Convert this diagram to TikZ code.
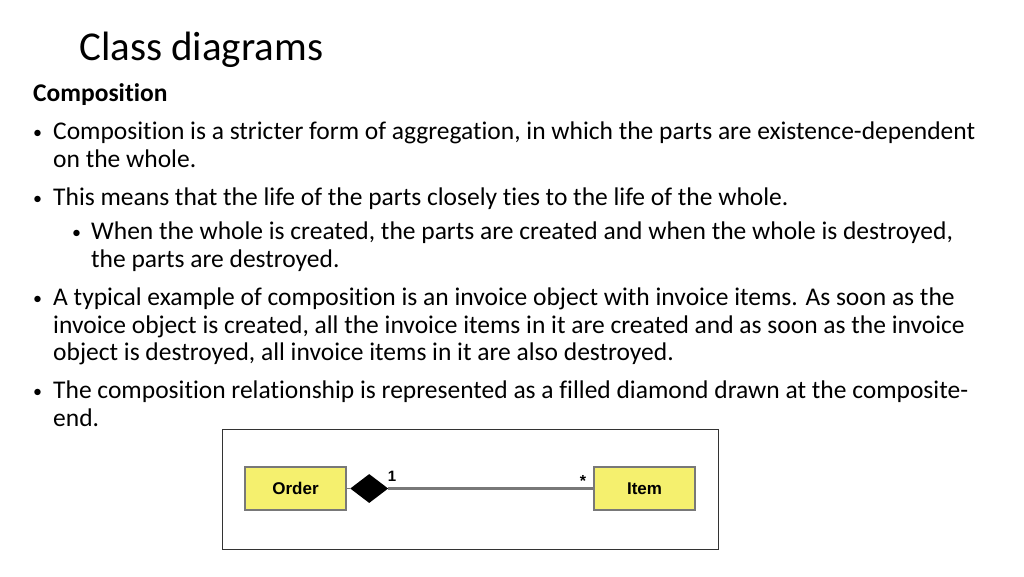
\documentclass[tikz,border=0pt]{standalone}
\usepackage{fontspec}
\setmainfont[RawFeature=-liga]{Carlito}
\setsansfont{Liberation Sans}
\usetikzlibrary{shapes.geometric}
\definecolor{myyellow}{RGB}{245, 240, 110}
\definecolor{mygray}{RGB}{120, 120, 120}
\begin{document}
\begin{tikzpicture}[x=1pt,y=-1pt]
                \tikzstyle{line}=[anchor=base west, inner sep=0pt, font=\fontsize{25.5}{30}\selectfont]
                \tikzstyle{dot}=[anchor=base west, inner sep=0pt, font=\fontsize{18}{25}\selectfont]
                \tikzstyle{cls}=[rectangle, draw=mygray, line width=1.5pt, fill=myyellow, minimum width=101pt, minimum height=43pt, font=\sffamily\bfseries\fontsize{17}{18}\selectfont]
                \useasboundingbox (0,0) rectangle (1024,576);
                \node[anchor=base west, inner sep=0pt, font=\fontsize{41}{46}\selectfont] (title) at (79,60) {Class diagrams};
                \node[line, font=\bfseries\fontsize{25.5}{30}\selectfont] (sub) at (33,101) {Composition};
                \node[dot] (b1) at (33,138) {•};
                \node[line] (l1) at (53,139) {Composition is a stricter form of aggregation, in which the parts are existence-dependent};
                \node[line] (l2) at (53,167) {on the whole.};
                \node[dot] (b2) at (33,204) {•};
                \node[line] (l3) at (53,205) {This means that the life of the parts closely ties to the life of the whole.};
                \node[dot] (b3) at (72,238) {•};
                \node[line] (l4) at (91,239) {When the whole is created, the parts are created and when the whole is destroyed,};
                \node[line] (l5) at (91,267) {the parts are destroyed.};
                \node[dot] (b4) at (33,304) {•};
                \node[line] (l6) at (53,305) {A typical example of composition is an invoice object with invoice items. As soon as the};
                \node[line] (l7) at (53,333) {invoice object is created, all the invoice items in it are created and as soon as the invoice};
                \node[line] (l8) at (53,360) {object is destroyed, all invoice items in it are also destroyed.};
                \node[dot] (b5) at (33,397) {•};
                \node[line] (l9) at (53,398) {The composition relationship is represented as a filled diamond drawn at the composite-};
                \node[line] (l10) at (53,426) {end.};

                \draw[draw=black!80, line width=0.8pt] (222,429) rectangle (718,549);
                \node[cls] (order) at (295.5,488.5) {Order};
                \node[cls] (item) at (644.5,488.5) {Item};
                \node[diamond, fill=black, inner sep=0pt, minimum width=38pt, minimum height=29pt, anchor=west] (dia) at (350,488.5) {};
                \draw[mygray, line width=1.5pt] (order.east) -- (dia.west);
                \draw[mygray, line width=2.5pt] (dia.east) -- (item.west);
                \node[font=\sffamily\bfseries\fontsize{15}{16}\selectfont] (one) at (392,476) {1};
                \node[font=\sffamily\bfseries\fontsize{16}{16}\selectfont] (many) at (583,481) {*};
            \end{tikzpicture}
\end{document}
